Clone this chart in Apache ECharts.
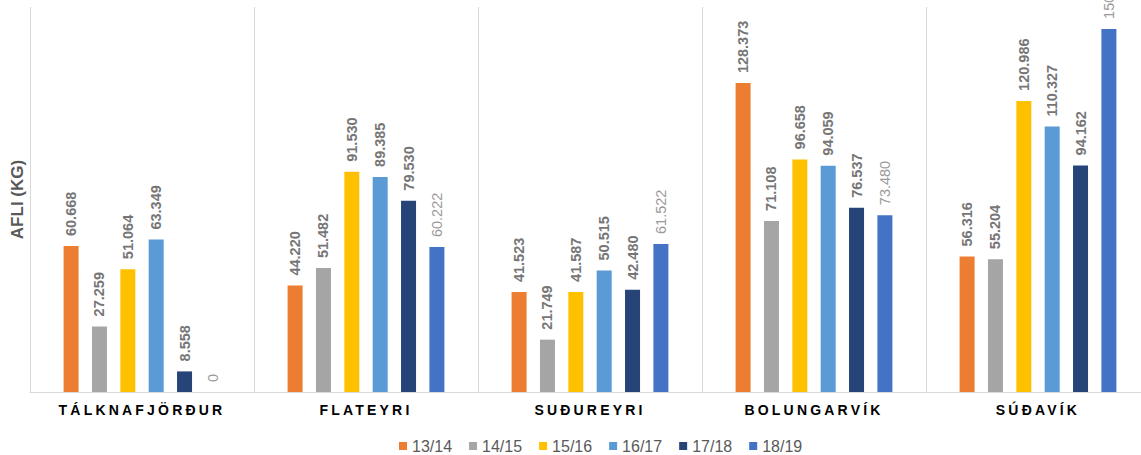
<!DOCTYPE html>
<html>
<head>
<meta charset="utf-8">
<script src="https://cdn.jsdelivr.net/npm/echarts@6/dist/echarts.min.js"></script>
<style>
html,body{margin:0;padding:0;background:#fff;}
#chart{width:1141px;height:455px;}
</style>
</head>
<body>
<div id="chart"></div>
<script>
var categories = ['TÁLKNAFJÖRÐUR', 'FLATEYRI', 'SUÐUREYRI', 'BOLUNGARVÍK', 'SÚÐAVÍK'];
var seriesNames = ['13/14', '14/15', '15/16', '16/17', '17/18', '18/19'];
var s1314 = [60.668, 44.220, 41.523, 128.373, 56.316];
var s1415 = [27.259, 51.482, 21.749, 71.108, 55.204];
var s1516 = [51.064, 91.530, 41.587, 96.658, 120.986];
var s1617 = [63.349, 89.385, 50.515, 94.059, 110.327];
var s1718 = [8.558, 79.530, 42.480, 76.537, 94.162];
var s1819 = [0, 60.222, 61.522, 73.480, 150.900];
var colors = ['#ED7D31', '#A5A5A5', '#FFC000', '#5B9BD5', '#264478', '#4472C4'];
var yTitle = 'AFLI (KG)';

var allData = [s1314, s1415, s1516, s1617, s1718, s1819];
var font = 'Arial';

function fmt(p) { return p.value === 0 ? '0' : p.value.toFixed(3); }

var series = allData.map(function (d, i) {
  var last = i === allData.length - 1;
  return {
    name: seriesNames[i],
    type: 'bar',
    data: d,
    barGap: '89%',
    barCategoryGap: '30%',
    itemStyle: { color: colors[i] },
    label: {
      show: true,
      position: 'top',
      rotate: 90,
      align: 'left',
      verticalAlign: 'middle',
      distance: 10,
      formatter: fmt,
      fontFamily: font,
      fontSize: 14.5,
      fontWeight: last ? 'normal' : 'bold',
      color: last ? '#9a9a9a' : '#767676'
    }
  };
});

var chart = echarts.init(document.getElementById('chart'), null, { renderer: 'svg' });
chart.setOption({
  animation: false,
  backgroundColor: '#ffffff',
  grid: { left: 30, top: 7, width: 1120, height: 385, containLabel: false, outerBoundsMode: 'none' },
  legend: {
    data: seriesNames,
    left: 394,
    top: 433,
    itemWidth: 8,
    itemHeight: 8,
    itemGap: 17,
    icon: 'rect',
    textStyle: { color: '#595959', fontSize: 16, fontFamily: font }
  },
  xAxis: {
    type: 'category',
    data: categories,
    axisLine: { lineStyle: { color: '#d9d9d9', width: 1 } },
    axisTick: { show: false },
    splitLine: { show: true, lineStyle: { color: '#d9d9d9', width: 1 } },
    axisLabel: { margin: 11, color: '#000000', fontWeight: 'bold', fontSize: 14, fontFamily: font, interval: 0 }
  },
  yAxis: {
    type: 'value',
    min: 0,
    max: 160,
    show: true,
    axisLine: { show: false },
    axisTick: { show: false },
    axisLabel: { show: false },
    splitLine: { show: false },
    name: yTitle,
    nameLocation: 'middle',
    nameGap: 4,
    nameTextStyle: { color: '#595959', fontSize: 17, fontWeight: 'bold', fontFamily: font }
  },
  series: series
});

function spaceLabels() {
  var texts = document.querySelectorAll('#chart text');
  texts.forEach(function (t) {
    if (categories.indexOf(t.textContent) >= 0) {
      t.style.letterSpacing = '3.2px';
    }
  });
}
spaceLabels();
chart.on('finished', spaceLabels);
setTimeout(spaceLabels, 0);
</script>
</body>
</html>
